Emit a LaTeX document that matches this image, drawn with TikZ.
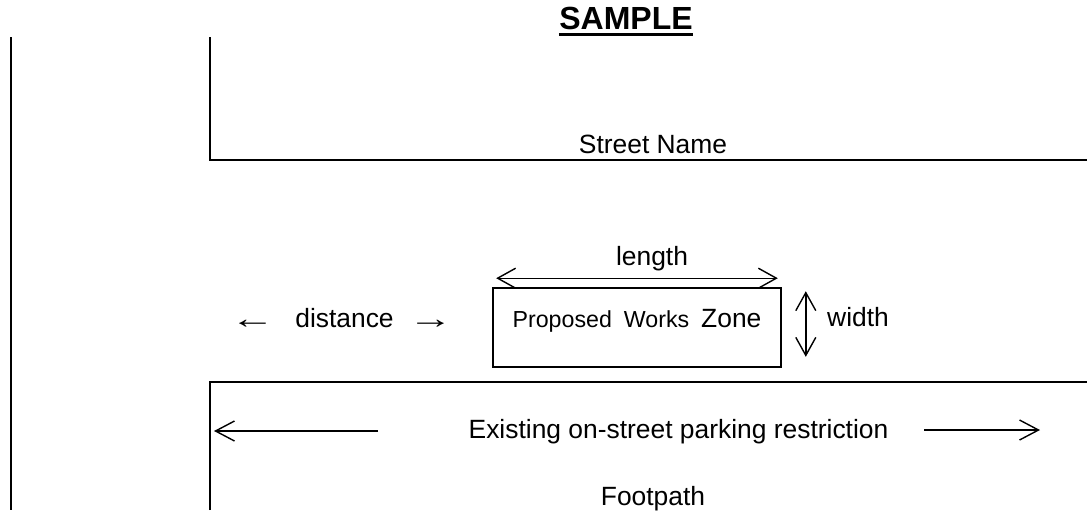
\documentclass[tikz,border=0pt]{standalone}
\usepackage{fontspec}
\setmainfont{Liberation Sans}
\usepackage{tikz}
\usetikzlibrary{arrows.meta, calc, positioning}

\tikzset{
	road/.style={line width=1.1pt},
	barb/.style={line width=0.7pt, -{Straight Barb[length=9.5pt,width=10pt]}},
	dimline/.style={line width=0.7pt, {Straight Barb[length=9pt,width=10pt]}-{Straight Barb[length=9pt,width=10pt]}},
	lbl/.style={inner sep=0pt, anchor=base, font=\fontsize{13.2}{15}\selectfont},
	zonebox/.style={draw, line width=0.8pt, inner sep=0pt, anchor=base, text height=19.5pt, text depth=20pt, minimum width=144pt, font=\fontsize{13.2}{15}\selectfont},
}

\begin{document}
\begin{tikzpicture}[x=0.5pt,y=-0.5pt]
		\useasboundingbox (0,0) rectangle (1087,510);
		\node[lbl, font=\fontsize{16}{18}\selectfont\bfseries] (samp) at (626,29) {SAMPLE};
		\draw[line width=1.5pt] ($(samp.base west)+(0,5)$) -- ($(samp.base east)+(0,5)$);
%
		\coordinate (edgetop) at (11,37);
		\coordinate (edgebot) at (11,510);
		\draw[road] (edgetop) -- (edgebot);
%
		\coordinate (st1) at (210,37);
		\coordinate (st2) at (210,160);
		\coordinate (st3) at (1087,160);
		\draw[road] (st1) -- (st2) -- (st3);
		\node[lbl] (stname) at (653,153) {Street Name};
%
		\node[zonebox] (zone) at (637,327) {{\fontsize{11.6}{14}\selectfont Proposed\hspace{6pt}Works}\hspace{6pt}Zone};
		\draw[dimline] ($(zone.north west)+(4,-9)$) -- ($(zone.north east)+(-4,-9)$);
		\node[lbl] (len) at (652,265) {length};
		\draw[dimline] ($(zone.north east)+(24,4)$) -- ($(zone.south east)+(24,-11)$);
		\node[lbl] (wid) at (858,326) {width};
%
		\node[lbl] (dist) at (344.5,327) {distance};
		\node[lbl] (larr) at (252.5,328) {\scalebox{1.7}[1.1]{←}};
		\node[lbl] (rarr) at (430.5,328) {\scalebox{1.7}[1.1]{→}};
%
		\coordinate (fp1) at (210,510);
		\coordinate (fp2) at (210,382);
		\coordinate (fp3) at (1087,382);
		\draw[road] (fp1) -- (fp2) -- (fp3);
		\node[lbl] (restr) at (678.5,438) {Existing on-street parking restriction};
		\coordinate (la) at (378,431);
		\coordinate (lb) at (214,431);
		\coordinate (ra) at (924,430);
		\coordinate (rb) at (1040,430);
		\path[barb]
			(la) edge (lb)
			(ra) edge (rb);
		\node[lbl] (fpath) at (653,505) {Footpath};
	\end{tikzpicture}
\end{document}
